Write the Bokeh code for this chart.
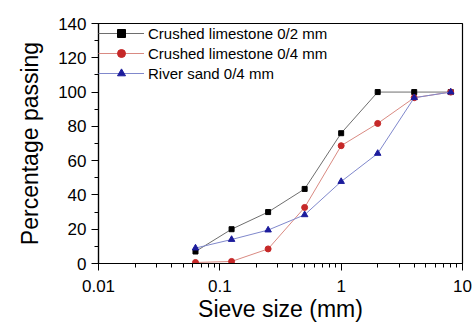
from bokeh.plotting import figure
from bokeh.models import LogTicker, FixedTicker, Range1d, Legend, LegendItem
from bokeh.embed import file_html
from bokeh.resources import INLINE

sieve = [0.063, 0.125, 0.25, 0.5, 1, 2, 4, 8]
lime02 = [7, 20, 30, 43.5, 76, 100, 100, 100]
lime04 = [0.6, 1.2, 8.5, 32.7, 68.7, 81.7, 96.7, 100]
river04 = [9, 14, 19.5, 28.4, 47.8, 64.2, 96.7, 100]
names = ["Crushed limestone 0/2 mm", "Crushed limestone 0/4 mm", "River sand 0/4 mm"]
y_ticks = [0, 20, 40, 60, 80, 100, 120, 140]

FONT = "Liberation Sans"

p = figure(width=472, height=326, x_axis_type="log", output_backend="svg",
           toolbar_location=None, x_range=Range1d(0.01, 10), y_range=Range1d(0, 140),
           min_border_left=98, min_border_right=10, min_border_top=23, min_border_bottom=63)
p.grid.visible = False
p.outline_line_color = "black"
p.outline_line_width = 1.2

series = [
    (lime02, "#6e6e6e", "black", "square", 5),
    (lime04, "#d98a82", "#c62828", "circle", 6),
    (river04, "#8088cc", "#1c1c9c", "triangle", 6.5),
]
items = []
for (vals, lc, mc, mk, sz), nm in zip(series, names):
    r1 = p.line(sieve, vals, line_color=lc, line_width=1)
    r2 = p.scatter(sieve, vals, marker=mk, size=sz, fill_color=mc, line_color=mc)
    items.append(LegendItem(label=nm, renderers=[r1, r2]))

leg = Legend(items=items, location="top_left", margin=0, padding=0,
             border_line_alpha=0, background_fill_alpha=0,
             glyph_width=46, glyph_height=20, label_height=20, spacing=0,
             label_standoff=4, label_text_font=FONT, label_text_font_size="15px",
             label_text_color="black")
p.add_layout(leg)

p.xaxis.ticker = LogTicker(num_minor_ticks=10)
p.yaxis.ticker = FixedTicker(ticks=y_ticks, minor_ticks=list(range(10, 140, 20)))
for ax in (p.xaxis, p.yaxis):
    ax.axis_line_color = "black"
    ax.axis_line_width = 1.2
    ax.major_tick_line_color = "black"
    ax.minor_tick_line_color = "black"
    ax.major_tick_in = 0
    ax.major_tick_out = 7
    ax.minor_tick_in = 0
    ax.minor_tick_out = 4
    ax.major_label_text_font = FONT
    ax.major_label_text_font_size = "17px"
    ax.major_label_text_color = "black"
    ax.axis_label_text_font = FONT
    ax.axis_label_text_font_size = "23px"
    ax.axis_label_text_font_style = "normal"
    ax.axis_label_text_color = "black"
p.xaxis.axis_label = "Sieve size (mm)"
p.yaxis.axis_label = "Percentage passing"
p.xaxis.major_label_overrides = {0.01: "0.01", 0.1: "0.1", 1: "1", 10: "10"}
p.xaxis.major_label_standoff = 9
p.xaxis.axis_label_standoff = 1
p.yaxis.axis_label_standoff = 12

open("out.html", "w").write(file_html(p, INLINE))
